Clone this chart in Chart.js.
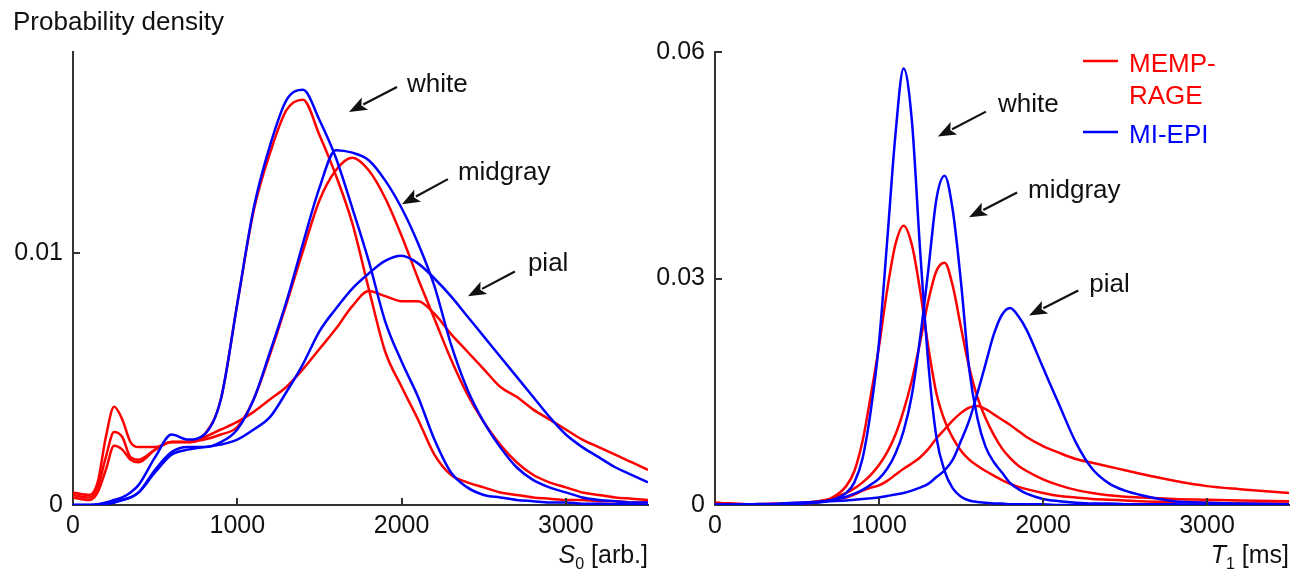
<!DOCTYPE html>
<html>
<head>
<meta charset="utf-8">
<script src="https://cdn.jsdelivr.net/npm/chart.js@4.4.0/dist/chart.umd.min.js"></script>
<style>
  html, body { margin: 0; padding: 0; background: #fff; }
  #wrap { position: relative; width: 1302px; height: 576px; }
  canvas { position: absolute; top: 0; }
  #s0Chart { left: 0; }
  #t1Chart { left: 651px; }
</style>
</head>
<body>
<div id="wrap">
  <canvas id="s0Chart" width="651" height="576"></canvas>
  <canvas id="t1Chart" width="651" height="576"></canvas>
</div>
<script>
// ---- data: left panel, S0 [arb.] ----
const s0Grid = [0, 100, 150, 200, 250, 300, 350, 400, 500, 600, 700, 800, 900, 1000, 1100, 1200, 1300, 1400, 1500, 1600,
  1700, 1800, 1900, 2000, 2100, 2200, 2300, 2400, 2500, 2600, 2700, 2800, 2900, 3000, 3100, 3200, 3300, 3400, 3500];

const s0WhiteMemp = [0.0003, 0.0002, 0.0005, 0.0014, 0.00235, 0.0022, 0.0018, 0.0017, 0.0022, 0.0025, 0.0025, 0.0028, 0.0042, 0.0080,
  0.0117, 0.0140, 0.0157, 0.0161, 0.0147, 0.0131, 0.0112, 0.0086, 0.0061, 0.0047, 0.0034, 0.0020, 0.0012, 0.0009, 0.0007, 0.0005,
  0.0004, 0.0003, 0.00025, 0.0002, 0.0002, 0.00015, 0.00015, 0.0001, 0.0001];
const s0WhiteEpi = [0, 0, 0.00003, 0.0001, 0.0002, 0.0003, 0.0005, 0.0008, 0.0019, 0.0028, 0.0026, 0.0028, 0.0042, 0.0080,
  0.0118, 0.0143, 0.0161, 0.0165, 0.0153, 0.0138, 0.0118, 0.0097, 0.0073, 0.0057, 0.0043, 0.0026, 0.0013, 0.0007, 0.0004, 0.0003,
  0.0002, 0.00015, 0.0001, 0.0001, 0.00005, 0.00005, 0.00003, 0.00002, 0];
const s0MidMemp = [0.0004, 0.0003, 0.0007, 0.0019, 0.0029, 0.0027, 0.0019, 0.0018, 0.0022, 0.0025, 0.0025, 0.0026, 0.0028, 0.0031,
  0.0042, 0.0060, 0.0080, 0.0101, 0.0121, 0.0133, 0.0138, 0.0133, 0.0122, 0.0107, 0.0090, 0.0074, 0.0058, 0.0044, 0.0033, 0.0024,
  0.0017, 0.0012, 0.0009, 0.0007, 0.0005, 0.0004, 0.0003, 0.00025, 0.0002];
const s0MidEpi = [0, 0, 0, 0.00005, 0.0001, 0.0002, 0.0003, 0.0005, 0.0014, 0.0021, 0.0023, 0.0023, 0.0025, 0.0030,
  0.0042, 0.0061, 0.0081, 0.0104, 0.0126, 0.0141, 0.0140, 0.0137, 0.0129, 0.0118, 0.0104, 0.0087, 0.0064, 0.0046, 0.0033, 0.0023,
  0.0015, 0.0010, 0.0007, 0.0005, 0.0003, 0.0002, 0.00015, 0.0001, 0.0001];
const s0PialMemp = [0.0005, 0.0004, 0.0009, 0.0027, 0.0039, 0.0034, 0.0025, 0.0023, 0.0023, 0.0025, 0.0025, 0.0027, 0.0030, 0.0033,
  0.0037, 0.0042, 0.0047, 0.0054, 0.0062, 0.0070, 0.0079, 0.0085, 0.0083, 0.0081, 0.0081, 0.0076, 0.0068, 0.0061, 0.0054, 0.0047,
  0.0043, 0.0038, 0.0034, 0.0030, 0.0026, 0.0023, 0.0020, 0.0017, 0.0014];
const s0PialEpi = [0, 0, 0, 0.00005, 0.0001, 0.0002, 0.0003, 0.0005, 0.0013, 0.0020, 0.0022, 0.0023, 0.0024, 0.0026,
  0.0030, 0.0035, 0.0045, 0.0056, 0.0069, 0.0078, 0.0086, 0.0092, 0.0097, 0.0099, 0.0096, 0.0090, 0.0083, 0.0075, 0.0067, 0.0059,
  0.0051, 0.0043, 0.0035, 0.0028, 0.0023, 0.0019, 0.0015, 0.0012, 0.0009];

// ---- data: right panel, T1 [ms] ----
const t1Grid = [0, 200, 400, 600, 700, 800, 850, 900, 950, 1000, 1050, 1100, 1150, 1200, 1250, 1300, 1350, 1400, 1450, 1500,
  1550, 1600, 1650, 1700, 1750, 1800, 1850, 1900, 2000, 2100, 2200, 2300, 2400, 2500, 2600, 2800, 3000, 3200, 3500];

const t1WhiteMemp = [0.0003, 0.0001, 0.0001, 0.0003, 0.0008, 0.0025, 0.0045, 0.0085, 0.0145, 0.021, 0.0285, 0.0345, 0.037, 0.0345,
  0.0285, 0.021, 0.0148, 0.0112, 0.0089, 0.0072, 0.006, 0.0052, 0.0045, 0.0039, 0.0033, 0.0028, 0.0024, 0.0021, 0.0016, 0.0012,
  0.001, 0.0008, 0.0007, 0.0006, 0.0005, 0.0004, 0.0003, 0.0002, 0.0002];
const t1WhiteEpi = [0.0001, 0, 0.0001, 0.0003, 0.0006, 0.0016, 0.003, 0.0062, 0.0125, 0.0215, 0.035, 0.049, 0.0578, 0.051,
  0.034, 0.019, 0.009, 0.0045, 0.0022, 0.0011, 0.0006, 0.0004, 0.0003, 0.0002, 0.0002, 0.0001, 0.0001, 0.0001, 0.0001, 0,
  0, 0, 0, 0, 0, 0, 0, 0, 0];
const t1MidMemp = [0.0002, 0.0001, 0.0001, 0.0004, 0.0008, 0.0016, 0.0022, 0.003, 0.004, 0.0053, 0.007, 0.0093, 0.0125, 0.0165,
  0.0215, 0.027, 0.031, 0.0321, 0.029, 0.0235, 0.0182, 0.0143, 0.0115, 0.0093, 0.0075, 0.0062, 0.0052, 0.0045, 0.0034, 0.0026,
  0.002, 0.0016, 0.0013, 0.0011, 0.001, 0.0008, 0.0007, 0.0006, 0.0005];
const t1MidEpi = [0, 0, 0.0001, 0.0003, 0.0006, 0.0011, 0.0015, 0.002, 0.0027, 0.0035, 0.0048, 0.0068, 0.0098, 0.0145,
  0.022, 0.031, 0.0405, 0.0436, 0.039, 0.0295, 0.018, 0.0115, 0.0077, 0.0057, 0.0043, 0.0029, 0.0021, 0.0015, 0.0008, 0.0005,
  0.0003, 0.0002, 0.0002, 0.0001, 0.0001, 0.0001, 0, 0, 0];
const t1PialMemp = [0.0003, 0.0001, 0.0002, 0.0004, 0.0007, 0.001, 0.0014, 0.0019, 0.0023, 0.0026, 0.0032, 0.004, 0.0048, 0.0055,
  0.0063, 0.0074, 0.0088, 0.01, 0.0112, 0.0122, 0.0129, 0.0131, 0.0127, 0.012, 0.0113, 0.0106, 0.0098, 0.009, 0.0078, 0.0069,
  0.0061, 0.0056, 0.0051, 0.0046, 0.0041, 0.0032, 0.0025, 0.0021, 0.0016];
const t1PialEpi = [0, 0.0001, 0.0002, 0.0004, 0.0005, 0.0006, 0.0007, 0.0008, 0.0009, 0.001, 0.0012, 0.0014, 0.0016, 0.0019,
  0.0023, 0.0028, 0.0037, 0.0046, 0.006, 0.0085, 0.0112, 0.0148, 0.0187, 0.0226, 0.0252, 0.0261, 0.0250, 0.0232, 0.0182, 0.0132,
  0.0083, 0.0048, 0.0029, 0.0019, 0.0013, 0.0005, 0.0003, 0.0002, 0.0001];

// tick values
const xTicks = [0, 1000, 2000, 3000];
const s0YTicks = [0, 0.01];
const t1YTicks = [0, 0.03, 0.06];

// arrow labels, in data units: text position, arrow tail, arrow tip
const s0Notes = [
  { label: 'white', at: [2033, 0.01641], tail: [1972, 0.01661], tip: [1680, 0.01562] },
  { label: 'midgray', at: [2343, 0.01291], tail: [2282, 0.01295], tip: [2002, 0.01195] },
  { label: 'pial', at: [2769, 0.00928], tail: [2690, 0.00928], tip: [2404, 0.00829] }
];
const t1Notes = [
  { label: 'white', at: [1726, 0.0520], tail: [1652, 0.0521], tip: [1359, 0.0488] },
  { label: 'midgray', at: [1909, 0.0407], tail: [1842, 0.0414], tip: [1549, 0.0381] },
  { label: 'pial', at: [2282, 0.0282], tail: [2215, 0.0284], tip: [1915, 0.0251] }
];

const RED = '#ff0000';
const BLUE = '#0000ff';
const AXIS = '#333333';
const FONT = "'Liberation Sans', Arial, sans-serif";
const FSIZE = 25;   // tick labels
const TSIZE = 26;   // titles, notes, legend

Chart.defaults.font.family = FONT;
Chart.defaults.font.size = FSIZE;
Chart.defaults.color = '#111';

function line(grid, vals, color) {
  return {
    data: grid.map((x, i) => ({ x: x, y: vals[i] })),
    borderColor: color,
    borderWidth: 2.5,
    pointRadius: 0,
    fill: false,
    cubicInterpolationMode: 'monotone'
  };
}

// inward ticks, arrows, axis titles, legend
const decor = {
  id: 'decor',
  afterDraw(chart, args, o) {
    const ctx = chart.ctx;
    const a = chart.chartArea;
    const xs = chart.scales.x, ys = chart.scales.y;
    ctx.save();

    ctx.strokeStyle = AXIS;
    ctx.lineWidth = 2;
    ctx.beginPath();
    xs.ticks.forEach(t => {
      if (t.value === xs.min) return;
      const p = Math.round(xs.getPixelForValue(t.value));
      ctx.moveTo(p, a.bottom);
      ctx.lineTo(p, a.bottom - 7);
    });
    ys.ticks.forEach(t => {
      if (t.value === ys.min) return;
      const p = Math.round(ys.getPixelForValue(t.value));
      ctx.moveTo(a.left, p);
      ctx.lineTo(a.left + 7, p);
    });
    ctx.stroke();

    // arrows with labels
    ctx.fillStyle = '#111';
    ctx.strokeStyle = '#111';
    ctx.font = TSIZE + 'px ' + FONT;
    ctx.textBaseline = 'alphabetic';
    ctx.textAlign = 'left';
    (o.notes || []).forEach(n => {
      const x0 = xs.getPixelForValue(n.tail[0]), y0 = ys.getPixelForValue(n.tail[1]);
      const x1 = xs.getPixelForValue(n.tip[0]), y1 = ys.getPixelForValue(n.tip[1]);
      const ang = Math.atan2(y1 - y0, x1 - x0);
      const hl = 18, hw = 7;
      const bx = x1 - hl * Math.cos(ang), by = y1 - hl * Math.sin(ang);
      ctx.lineWidth = 2.2;
      ctx.beginPath();
      ctx.moveTo(x0, y0);
      ctx.lineTo(bx + 2 * Math.cos(ang), by + 2 * Math.sin(ang));
      ctx.stroke();
      ctx.beginPath();
      ctx.moveTo(x1, y1);
      ctx.lineTo(bx + hw * Math.sin(ang), by - hw * Math.cos(ang));
      ctx.lineTo(bx + 4 * Math.cos(ang), by + 4 * Math.sin(ang));
      ctx.lineTo(bx - hw * Math.sin(ang), by + hw * Math.cos(ang));
      ctx.closePath();
      ctx.fill();
      ctx.fillText(n.label, xs.getPixelForValue(n.at[0]), ys.getPixelForValue(n.at[1]));
    });

    // y title
    if (o.yTitle) {
      ctx.fillText(o.yTitle, 13, 30);
    }

    // x title with italic symbol and subscript
    const parts = [
      { t: o.xSym, f: 'italic ' + FSIZE + 'px ' + FONT, dy: 0 },
      { t: o.xSub, f: '16px ' + FONT, dy: 6 },
      { t: ' ' + o.xUnit, f: FSIZE + 'px ' + FONT, dy: 0 }
    ];
    let w = 0;
    parts.forEach(p => { ctx.font = p.f; p.w = ctx.measureText(p.t).width; w += p.w; });
    let cx = a.right - w;
    const base = 563;
    parts.forEach(p => { ctx.font = p.f; ctx.fillText(p.t, cx, base + p.dy); cx += p.w; });

    // legend
    if (o.legend) {
      ctx.font = TSIZE + 'px ' + FONT;
      o.legend.forEach(l => {
        ctx.strokeStyle = l.color;
        ctx.lineWidth = 2.5;
        ctx.beginPath();
        ctx.moveTo(432, l.y);
        ctx.lineTo(467, l.y);
        ctx.stroke();
        ctx.fillStyle = l.color;
        l.lines.forEach((s, i) => ctx.fillText(s, 478, l.y + 11 + i * 32));
      });
    }
    ctx.restore();
  }
};

function makePanel(id, grid, sets, yMax, yTicks, yWidth, rightPad, decorOpts) {
  const datasets = [
    line(grid, sets.whiteEpi, BLUE),
    line(grid, sets.midEpi, BLUE),
    line(grid, sets.pialEpi, BLUE),
    line(grid, sets.whiteMemp, RED),
    line(grid, sets.midMemp, RED),
    line(grid, sets.pialMemp, RED)
  ];
  return new Chart(document.getElementById(id), {
    type: 'line',
    data: { datasets: datasets },
    options: {
      responsive: false,
      animation: false,
      events: [],
      layout: { padding: { top: 52, right: rightPad, left: 0, bottom: 0 } },
      plugins: {
        legend: { display: false },
        tooltip: { enabled: false },
        decor: decorOpts
      },
      scales: {
        x: {
          type: 'linear',
          min: 0,
          max: 3500,
          afterBuildTicks: s => { s.ticks = xTicks.map(v => ({ value: v })); },
          afterFit: s => { s.height = 71; },
          grid: { display: false, drawTicks: false },
          border: { display: true, color: AXIS, width: 2 },
          ticks: { padding: 6, maxRotation: 0, autoSkip: false, color: '#111', callback: v => String(v) }
        },
        y: {
          type: 'linear',
          min: 0,
          max: yMax,
          afterBuildTicks: s => { s.ticks = yTicks.map(v => ({ value: v })); },
          afterFit: s => { s.width = yWidth; },
          grid: { display: false, drawTicks: false },
          border: { display: true, color: AXIS, width: 2 },
          ticks: { padding: 10, color: '#111', callback: v => String(v) }
        }
      }
    },
    plugins: [decor]
  });
}

makePanel('s0Chart', s0Grid, {
  whiteMemp: s0WhiteMemp, whiteEpi: s0WhiteEpi,
  midMemp: s0MidMemp, midEpi: s0MidEpi,
  pialMemp: s0PialMemp, pialEpi: s0PialEpi
}, 0.018, s0YTicks, 73, 3, {
  notes: s0Notes, yTitle: 'Probability density', xSym: 'S', xSub: '0', xUnit: '[arb.]'
});

makePanel('t1Chart', t1Grid, {
  whiteMemp: t1WhiteMemp, whiteEpi: t1WhiteEpi,
  midMemp: t1MidMemp, midEpi: t1MidEpi,
  pialMemp: t1PialMemp, pialEpi: t1PialEpi
}, 0.06, t1YTicks, 64, 13, {
  notes: t1Notes, xSym: 'T', xSub: '1', xUnit: '[ms]',
  legend: [
    { color: RED, y: 61, lines: ['MEMP-', 'RAGE'] },
    { color: BLUE, y: 132, lines: ['MI-EPI'] }
  ]
});
</script>
</body>
</html>
